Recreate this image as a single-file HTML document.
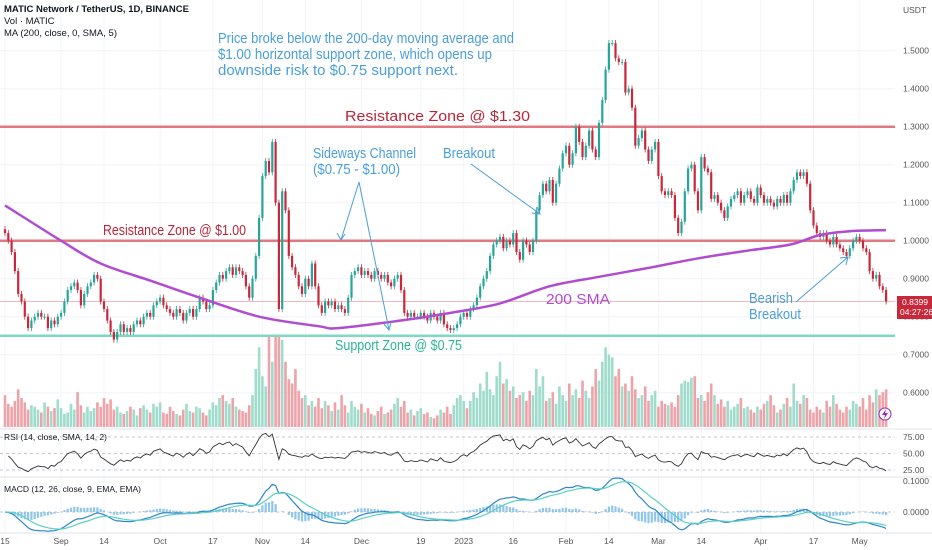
<!DOCTYPE html>
<html><head><meta charset="utf-8"><style>
html,body{margin:0;padding:0;background:#fff;}
svg{display:block;font-family:"Liberation Sans",sans-serif;}
</style></head><body>
<svg id="chart" width="932" height="550" viewBox="0 0 932 550" xmlns="http://www.w3.org/2000/svg">
<g id="grid"></g>
<g id="levels"></g>
<g id="vol"></g>
<g id="candles"></g>
<g id="sma"></g>
<g id="rsi"></g>
<g id="macd"></g>
<g id="axes"></g>
<g font-size="9.5" fill="#131722">
<text x="4" y="12" font-weight="bold">MATIC Network / TetherUS, 1D, BINANCE</text>
<text x="4" y="24">Vol · MATIC</text>
<text x="4" y="36">MA (200, close, 0, SMA, 5)</text>
</g>
<g font-size="14.5">
<text x="218" y="43" fill="#4a9fd8" textLength="296" lengthAdjust="spacingAndGlyphs">Price broke below the 200-day moving average and</text>
<text x="218" y="59" fill="#4a9fd8" textLength="274" lengthAdjust="spacingAndGlyphs">$1.00 horizontal support zone, which opens up</text>
<text x="218" y="75" fill="#4a9fd8" textLength="240" lengthAdjust="spacingAndGlyphs">downside risk to $0.75 support next.</text>
<text x="345" y="121" fill="#b8283a" textLength="185" lengthAdjust="spacingAndGlyphs">Resistance Zone @ $1.30</text>
<text x="103" y="235" fill="#b8283a" textLength="143" lengthAdjust="spacingAndGlyphs">Resistance Zone @ $1.00</text>
<text x="313" y="158" fill="#4a9fd8" textLength="103" lengthAdjust="spacingAndGlyphs">Sideways Channel</text>
<text x="313" y="174" fill="#4a9fd8" textLength="87" lengthAdjust="spacingAndGlyphs">($0.75 - $1.00)</text>
<text x="443" y="158" fill="#4a9fd8" textLength="52" lengthAdjust="spacingAndGlyphs">Breakout</text>
<text x="546" y="304" fill="#b04ccf" textLength="64" lengthAdjust="spacingAndGlyphs">200 SMA</text>
<text x="335" y="350" fill="#2bb596" textLength="127" lengthAdjust="spacingAndGlyphs">Support Zone @ $0.75</text>
<text x="749" y="303" fill="#4a9fd8" textLength="44" lengthAdjust="spacingAndGlyphs">Bearish</text>
<text x="749" y="319" fill="#4a9fd8" textLength="52" lengthAdjust="spacingAndGlyphs">Breakout</text>
<g stroke="#4a9fd8" stroke-width="1" fill="none">
<path d="M359,182 L341,240 M337,233 L341,240 L345,234"/>
<path d="M359,182 L389,330 M384,324 L389,330 L391,322"/>
<path d="M471,164 L540,214 M532,213 L540,214 L537,207"/>
<path d="M796,302 L848,257 M840,258 L848,257 L846,265"/>
</g>
</g>
<g>
<rect x="897" y="296" width="35" height="23" fill="#c8283a"/>
<text x="902" y="305" font-size="8.5" fill="#fff">0.8399</text>
<text x="900" y="315" font-size="8.5" fill="#fff">04:27:26</text>
</g>
<g>
<circle cx="885" cy="414" r="6" fill="#fff" stroke="#9c27b0" stroke-width="1"/>
<path d="M886,409 L882,415 L885,415 L884,419 L888,413 L885,413 Z" fill="#9c27b0"/>
</g>
</svg>
<script>
const closes=[1.02,1.00,0.97,0.92,0.86,0.84,0.80,0.77,0.79,0.80,
0.81,0.80,0.80,0.77,0.79,0.78,0.80,0.81,0.84,0.87,
0.88,0.89,0.87,0.83,0.86,0.88,0.89,0.91,0.90,0.84,
0.82,0.79,0.76,0.74,0.76,0.78,0.76,0.77,0.76,0.78,
0.79,0.78,0.80,0.81,0.80,0.83,0.84,0.85,0.83,0.82,
0.81,0.80,0.82,0.81,0.79,0.81,0.82,0.80,0.82,0.85,
0.84,0.82,0.83,0.87,0.89,0.91,0.90,0.92,0.93,0.91,
0.93,0.92,0.91,0.88,0.85,0.90,0.96,1.06,1.17,1.21,
1.18,1.26,1.10,0.82,1.13,1.08,0.96,0.93,0.91,0.88,
0.86,0.90,0.88,0.94,0.88,0.83,0.81,0.84,0.83,0.84,
0.82,0.83,0.82,0.81,0.85,0.91,0.92,0.93,0.91,0.92,
0.91,0.90,0.92,0.91,0.90,0.91,0.89,0.88,0.90,0.91,
0.87,0.81,0.80,0.81,0.80,0.80,0.81,0.80,0.79,0.81,
0.80,0.79,0.81,0.78,0.77,0.765,0.77,0.78,0.80,0.81,
0.80,0.82,0.83,0.85,0.88,0.90,0.92,0.96,0.99,1.00,
1.01,0.98,1.00,0.99,1.02,0.97,0.95,1.00,0.99,0.97,
1.00,1.08,1.12,1.15,1.13,1.16,1.10,1.15,1.19,1.23,
1.25,1.20,1.23,1.30,1.26,1.22,1.25,1.29,1.24,1.22,
1.31,1.37,1.45,1.52,1.52,1.48,1.47,1.47,1.39,1.40,
1.35,1.25,1.27,1.29,1.24,1.21,1.24,1.26,1.17,1.13,
1.12,1.13,1.12,1.06,1.02,1.05,1.13,1.19,1.20,1.13,
1.08,1.22,1.19,1.18,1.11,1.12,1.10,1.08,1.06,1.09,
1.11,1.12,1.13,1.10,1.12,1.13,1.11,1.10,1.14,1.12,
1.10,1.11,1.10,1.09,1.11,1.10,1.12,1.10,1.13,1.16,
1.18,1.17,1.18,1.15,1.08,1.04,1.02,1.01,1.02,1.00,
0.99,1.01,0.99,0.98,0.97,0.96,0.98,1.00,1.01,1.00,
0.98,0.97,0.92,0.90,0.91,0.88,0.87,0.84];
const firstOpen=1.03;
const volumes=[22,16,14,18,26,20,17,12,15,14,12,10,17,14,11,13,19,13,9,10,
16,12,24,15,10,14,11,13,17,14,20,16,19,12,14,10,9,11,14,12,
8,13,15,12,10,16,14,17,10,9,14,11,9,8,12,16,11,10,14,13,
10,8,12,17,15,20,22,18,16,20,14,12,11,10,15,22,40,55,35,28,
70,45,95,85,60,45,33,30,40,25,20,22,15,18,14,20,13,18,15,11,
17,12,22,15,10,18,14,12,16,10,13,9,8,11,14,9,10,12,16,20,
14,18,10,12,8,11,13,9,10,7,6,8,12,10,14,9,15,20,22,18,
13,18,24,20,30,25,38,26,22,35,45,30,33,25,28,20,22,24,18,25,
22,40,28,35,18,20,24,16,28,22,18,30,22,26,20,32,25,20,28,40,
32,45,55,50,48,35,40,28,30,25,35,26,20,22,28,18,22,25,14,18,
16,15,17,14,22,30,32,31,34,35,20,22,18,24,30,22,16,19,14,18,
12,14,16,20,13,14,12,10,14,12,16,18,22,15,10,12,16,20,14,30,
18,16,22,20,12,10,14,12,10,18,14,22,16,12,10,14,12,18,16,14,
20,12,22,17,26,22,24,26];
const smaDays=[0,17,29,44,59,77,95,101,120,135,150,165,180,196,211,226,238,247,256,267];
const smaValues=[1.093,1.0,0.94,0.895,0.85,0.80,0.775,0.77,0.79,0.81,0.835,0.88,0.905,0.93,0.955,0.975,0.99,1.015,1.025,1.028];
const priceTicks=[1.5,1.4,1.3,1.2,1.1,1.0,0.9,0.8,0.7,0.6];
const dateLabels=["15","Sep","14","Oct","17","Nov","14","Dec","19","2023","16","Feb","14","Mar","14","Apr","17","May"];
const dateDays=[0,17,30,47,63,78,91,108,126,139,154,170,183,198,211,229,245,259];
const zoneLevels=[1.30,1.00];
const supportLevels=[0.75];
const lastPrice=0.8399;

const NS="http://www.w3.org/2000/svg";
const xOf=i=>5+i*3.3;
const yP=p=>126.7+(1.3-p)*380;
const yV=v=>427-Math.min(v*1.45,90);
const yR=r=>437+(75-r)*0.66;
const yM=m=>512-m*310;
function mk(tag,attrs,parent){const e=document.createElementNS(NS,tag);for(const k in attrs)e.setAttribute(k,attrs[k]);parent.appendChild(e);return e;}
const G=id=>document.getElementById(id);

const grid=G('grid');
priceTicks.forEach(p=>{const l=mk('line',{x1:0,x2:895,y1:yP(p),y2:yP(p),stroke:'#f0f3fa','stroke-width':1},grid);

});
dateDays.forEach(d=>{const l=mk('line',{x1:xOf(d),x2:xOf(d),y1:0,y2:533,stroke:'#f3f5fa','stroke-width':1},grid);

});
{const l=mk('line',{x1:0,x2:895,y1:yP(lastPrice),y2:yP(lastPrice),stroke:'#f2b8bd','stroke-width':1},grid);

}

const lv=G('levels');
zoneLevels.forEach(p=>{const l=mk('line',{x1:0,x2:895,y1:yP(p),y2:yP(p),stroke:'#e27880','stroke-width':2.5},lv);

});
supportLevels.forEach(p=>{const l=mk('line',{x1:0,x2:895,y1:yP(p),y2:yP(p),stroke:'#7fd8c3','stroke-width':2.5},lv);

});

const cg=G('candles'),vg=G('vol');
closes.forEach((c,i)=>{
  const o=i===0?firstOpen:closes[i-1];
  const up=c>=o;const col=up?'#26a69a':'#c8283a';
  const x=xOf(i);
  const hi=Math.max(o,c)+0.008,lo=Math.min(o,c)-0.008;
  const w=mk('line',{x1:x,x2:x,y1:yP(hi),y2:yP(lo),stroke:col,'stroke-width':0.8},cg);
  
  
  const top=yP(Math.max(o,c)),bot=yP(Math.min(o,c));
  const b=mk('rect',{x:x-1.1,y:top,width:2.2,height:Math.max(1,bot-top),fill:col},cg);
  
  
  const v=volumes[i];
  const vb=mk('rect',{x:x-1.3,y:yV(v),width:2.6,height:427-yV(v),fill:up?'#9fdccb':'#eea3a8'},vg);
  
  
});

// SMA smooth (Catmull-Rom)
{const pts=smaDays.map((k,j)=>[xOf(k),yP(smaValues[j])]);
let d='M'+pts[0][0].toFixed(1)+','+pts[0][1].toFixed(1);
for(let j=0;j<pts.length-1;j++){const p0=pts[Math.max(0,j-1)],p1=pts[j],p2=pts[j+1],p3=pts[Math.min(pts.length-1,j+2)];
const c1=[p1[0]+(p2[0]-p0[0])/6,p1[1]+(p2[1]-p0[1])/6],c2=[p2[0]-(p3[0]-p1[0])/6,p2[1]-(p3[1]-p1[1])/6];
d+='C'+c1.map(v=>v.toFixed(1)).join(',')+' '+c2.map(v=>v.toFixed(1)).join(',')+' '+p2.map(v=>v.toFixed(1)).join(',');}
const p=mk('path',{d:d,fill:'none',stroke:'#b04ccf','stroke-width':2.5,'stroke-linejoin':'round'},G('sma'));

}

const rg=G('rsi');
[75,50,25].forEach(r=>{const l=mk('line',{x1:0,x2:895,y1:yR(r),y2:yR(r),stroke:'#b2b5be','stroke-width':0.8,'stroke-dasharray':'3,3'},rg);

});
{let ag=0.01,al=0.01,d='';
for(let i=1;i<closes.length;i++){const ch=closes[i]-closes[i-1];
ag=(ag*13+Math.max(ch,0))/14;al=(al*13+Math.max(-ch,0))/14;
const r=100-100/(1+ag/al);d+=(i>1?'L':'M')+xOf(i).toFixed(1)+','+yR(r).toFixed(1);}
const p=mk('path',{d:d,fill:'none',stroke:'#333','stroke-width':0.9},rg);

}
{const t=mk('text',{x:4,y:440,'font-size':8.5,fill:'#131722'},rg);t.textContent='RSI (14, close, SMA, 14, 2)';

}

const mg=G('macd');
{let e12=closes[0],e26=closes[0],sig=0,dm='',ds='';
const k12=2/13,k26=2/27,k9=2/10;
for(let i=0;i<closes.length;i++){e12=closes[i]*k12+e12*(1-k12);e26=closes[i]*k26+e26*(1-k26);
const m=e12-e26;sig=m*k9+sig*(1-k9);const h=m-sig;const x=xOf(i);
const hb=mk('rect',{x:x-1.1,y:Math.min(yM(h),yM(0)),width:2.2,height:Math.abs(yM(h)-yM(0)),fill:'#8fc6ea'},mg);


dm+=(i?'L':'M')+x.toFixed(1)+','+yM(m).toFixed(1);ds+=(i?'L':'M')+x.toFixed(1)+','+yM(sig).toFixed(1);}
const l0=mk('line',{x1:0,x2:895,y1:yM(0),y2:yM(0),stroke:'#b2b5be','stroke-width':0.8,'stroke-dasharray':'3,3'},mg);


const p1=mk('path',{d:dm,fill:'none',stroke:'#2e86c8','stroke-width':1.2},mg);


const p2=mk('path',{d:ds,fill:'none',stroke:'#5cd0c8','stroke-width':1.2},mg);

}
{const t=mk('text',{x:4,y:492,'font-size':8.5,fill:'#131722'},mg);t.textContent='MACD (12, 26, close, 9, EMA, EMA)';

}

const ax=G('axes');
[429,477,533].forEach(y=>{const l=mk('line',{x1:0,x2:932,y1:y,y2:y,stroke:'#e0e3eb','stroke-width':1},ax);

});
{const t=mk('text',{x:903,y:13,'font-size':8.5,fill:'#555'},ax);t.textContent='USDT';

}
priceTicks.forEach(p=>{const t=mk('text',{x:903,y:yP(p)+3,'font-size':8.5,fill:'#555'},ax);t.textContent=p.toFixed(4);

});
[[75,'75.00'],[50,'50.00'],[25,'25.00']].forEach(a=>{const t=mk('text',{x:903,y:yR(a[0])+3,'font-size':8.5,fill:'#555'},ax);t.textContent=a[1];

});
[[0.1,'0.1000'],[0,'0.0000']].forEach(a=>{const t=mk('text',{x:903,y:yM(a[0])+3,'font-size':8.5,fill:'#555'},ax);t.textContent=a[1];

});
dateLabels.forEach((s,j)=>{const t=mk('text',{x:xOf(dateDays[j]),y:544,'font-size':8.5,fill:'#555','text-anchor':'middle'},ax);t.textContent=s;

});
</script>
</body></html>
